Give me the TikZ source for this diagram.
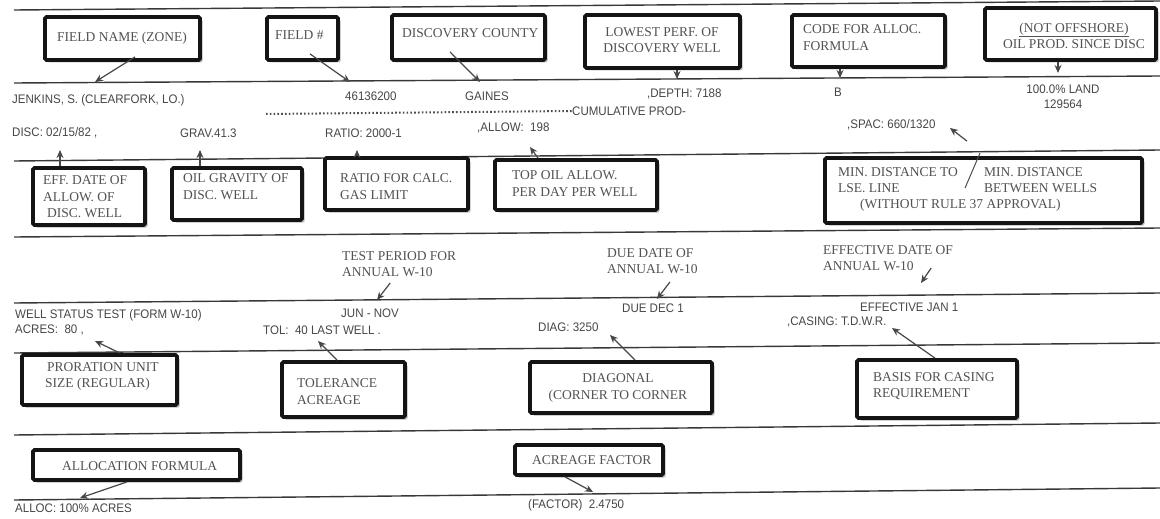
\documentclass[tikz,border=0pt]{standalone}
\usepackage{fontspec}
\setmainfont{Liberation Serif}
\newfontfamily\formfont[FakeStretch=0.93]{Liberation Sans}
\usetikzlibrary{arrows.meta,shadows,fit}
\begin{document}
\begin{tikzpicture}[x=1pt,y=-1pt,
  rule/.style={draw=black!78, line width=1.4pt},
  box/.style={draw=black!92, line width=3.8pt, fill=white, rounded corners=1.5pt, inner sep=0pt,
     drop shadow={shadow xshift=2.5pt, shadow yshift=-2.5pt, opacity=0.28, fill=black}},
  lbl/.style={font=\fontsize{13.5}{16.5}\selectfont, text=black!68, inner sep=0pt, anchor=west, align=left},
  frm/.style={font=\formfont\fontsize{12.4}{15}\selectfont, text=black!72, inner sep=0pt, anchor=west, align=left},
  arr/.style={draw=black!72, line width=1.2pt, -{Stealth[length=8pt,width=7pt]}},
  stars/.style={draw=black!70, line width=2pt, dash pattern=on 1.6pt off 2.2pt},
  slash/.style={draw=black!70, line width=1pt}]
\useasboundingbox (0,0) rectangle (1160,519);
\fill[white] (0,0) rectangle (1160,519);

% form rules
\draw[rule] (14,10) -- (1160,1);
\draw[rule] (14,83) -- (1160,76);
\draw[rule] (14,161) -- (1160,150);
\draw[rule] (14,237) -- (1160,228);
\draw[rule] (14,303) -- (1160,293);
\draw[rule] (14,353) -- (1160,343);
\draw[rule] (14,435) -- (1160,423);
\draw[rule] (14,500) -- (1160,488);

% boxes
\node[box, fit={(45,17) (200,60)}] (b1) {};
\node[box, fit={(267,17) (338,60)}] (b2) {};
\node[box, fit={(392,15) (545,60)}] (b3) {};
\node[box, fit={(585,15) (740,68)}] (b4) {};
\node[box, fit={(792,15) (945,67)}] (b5) {};
\node[box, fit={(985,8) (1156,60)}] (b6) {};
\node[box, fit={(33,168) (145,225)}] (b7) {};
\node[box, fit={(172,168) (302,220)}] (b8) {};
\node[box, fit={(325,158) (468,210)}] (b9) {};
\node[box, fit={(495,160) (657,210)}] (b10) {};
\node[box, fit={(825,158) (1142,223)}] (b11) {};
\node[box, fit={(22,355) (177,405)}] (b12) {};
\node[box, fit={(282,362) (405,417)}] (b13) {};
\node[box, fit={(530,362) (712,413)}] (b14) {};
\node[box, fit={(857,360) (1017,418)}] (b15) {};
\node[box, fit={(33,450) (240,480)}] (b16) {};
\node[box, fit={(515,445) (663,475)}] (b17) {};

% box labels
\node[lbl] (b1t) at (57,38) {FIELD NAME (ZONE)};
\node[lbl] (b2t) at (275,35) {FIELD \#};
\node[lbl] (b3t) at (402,33) {DISCOVERY COUNTY};
\node[lbl, anchor=center, align=center] (b4t) at (662,40) {LOWEST PERF. OF\\DISCOVERY WELL};
\node[lbl] (b5t) at (803,37.5) {CODE FOR ALLOC.\\FORMULA};
\node[lbl, anchor=center, align=center] (b6t) at (1074,36) {\underline{(NOT OFFSHORE)}\\OIL PROD. SINCE DISC};
\node[lbl] (b7t) at (43,197) {EFF. DATE OF\\ALLOW. OF\\\hspace*{4pt}DISC. WELL};
\node[lbl] (b8t) at (183,186.5) {OIL GRAVITY OF\\DISC. WELL};
\node[lbl] (b9t) at (340,186.5) {RATIO FOR CALC.\\GAS LIMIT};
\node[lbl] (b10t) at (512,183.5) {TOP OIL ALLOW.\\PER DAY PER WELL};
\node[lbl] (b11a) at (838,180) {MIN. DISTANCE TO\\LSE. LINE};
\node[lbl] (b11b) at (984,180) {MIN. DISTANCE\\BETWEEN WELLS};
\node[lbl] (b11c) at (860,205) {(WITHOUT RULE 37 APPROVAL)};
\node[lbl] (b12t) at (45,376.5) {\hspace*{2pt}PRORATION UNIT\\SIZE (REGULAR)};
\node[lbl] (b13t) at (297,391.5) {TOLERANCE\\ACREAGE};
\node[lbl, anchor=center, align=center] (b14t) at (618,388) {DIAGONAL\\(CORNER TO CORNER};
\node[lbl] (b15t) at (873,386) {BASIS FOR CASING\\REQUIREMENT};
\node[lbl] (b16t) at (62,466) {ALLOCATION FORMULA};
\node[lbl] (b17t) at (532,460) {ACREAGE FACTOR};

% free serif labels
\node[lbl] (tp) at (342,264) {TEST PERIOD FOR\\ANNUAL W-10};
\node[lbl] (dd) at (607,261) {DUE DATE OF\\ANNUAL W-10};
\node[lbl] (ed) at (823,258) {EFFECTIVE DATE OF\\ANNUAL W-10};

% form texts
\node[frm] (jenkins) at (12,100) {JENKINS, S. (CLEARFORK, LO.)};
\node[frm] (fieldno) at (345,96) {46136200};
\node[frm] (gaines) at (465,96) {GAINES};
\node[frm] (depth) at (647,94) {,DEPTH: 7188};
\node[frm] (code) at (834,92) {B};
\node[frm, anchor=center, align=center] (land) at (1063,97) {100.0\% LAND\\129564};
\node[frm] (cum) at (572,111) {CUMULATIVE PROD-};
\coordinate (dotstart) at (266,114);
\draw[stars] (dotstart) -- (cum.west);
\node[frm] (disc) at (12,133) {DISC: 02/15/82 ,};
\node[frm] (grav) at (180,133) {GRAV.41.3};
\node[frm] (ratio) at (325,133) {RATIO: 2000-1};
\node[frm] (allow) at (477,128) {,ALLOW:\ \ 198};
\node[frm] (spac) at (847,125) {,SPAC: 660/1320};
\node[frm] (wst) at (15,315) {WELL STATUS TEST (FORM W-10)};
\node[frm] (acres) at (15,330) {ACRES:\ \ 80 ,};
\node[frm] (jun) at (341,313) {JUN - NOV};
\node[frm] (tol) at (263,330) {TOL:\ \ 40 LAST WELL .};
\node[frm] (duedec) at (622,308) {DUE DEC 1};
\node[frm] (diag) at (538,327) {DIAG: 3250};
\node[frm] (effjan) at (860,307) {EFFECTIVE JAN 1};
\node[frm] (casing) at (787,322) {,CASING: T.D.W.R.};
\node[frm] (alloc) at (15,508) {ALLOC: 100\% ACRES};
\node[frm] (factor) at (528,505) {(FACTOR)\ \ 2.4750};

% arrow tips
\coordinate (t1) at (95,82);
\coordinate (t2) at (350,82);
\coordinate (t3) at (480,82);
\coordinate (t4) at (677,79);
\coordinate (t5) at (840,78);
\coordinate (t6) at (1058,73);
\coordinate (t7) at (60,150);
\coordinate (t8) at (200,150);
\coordinate (t9) at (357,150);
\coordinate (t10) at (530,147);
\coordinate (t11) at (950,128);
\coordinate (t12) at (377,300);
\coordinate (t13) at (657,299);
\coordinate (t14) at (921,283);
\coordinate (t15) at (95,341);
\coordinate (t16) at (318,341);
\coordinate (t17) at (610,335);
\coordinate (t18) at (892,328);
\coordinate (t19) at (80,498);
\coordinate (t20) at (593,492);

% connectors
\draw[arr] ([xshift=12.5pt,yshift=5pt]b1.south) -- (t1);
\draw[arr] ([xshift=7.5pt,yshift=8pt]b2.south) -- (t2);
\draw[arr] ([xshift=-18.5pt,yshift=10pt]b3.south) -- (t3);
\draw[arr] ([xshift=14.5pt]b4.south) -- (t4);
\draw[arr] ([xshift=-28.5pt]b5.south) -- (t5);
\draw[arr] ([xshift=-12.5pt]b6.south) -- (t6);
\draw[arr] ([xshift=-29pt]b7.north) -- (t7);
\draw[arr] ([xshift=-37pt]b8.north) -- (t8);
\draw[arr] ([xshift=-39.5pt]b9.north) -- (t9);
\draw[arr] ([xshift=-38pt]b10.north) -- (t10);
\draw[arr] ([xshift=-16.5pt,yshift=15pt]b11.north) -- (t11);
\draw[slash] ([xshift=-3.5pt,yshift=3pt]b11.north) -- ([xshift=-18.5pt,yshift=-32pt]b11.north);
\draw[arr] ([xshift=-9pt,yshift=-6pt]tp.south) -- (t12);
\draw[arr] ([xshift=17.5pt,yshift=-8pt]dd.south) -- (t13);
\draw[arr] ([xshift=-22pt,yshift=-10pt]ed.east) -- (t14);
\draw[arr] ([xshift=20.5pt]b12.north) -- (t15);
\draw[arr] ([xshift=-6.5pt]b13.north) -- (t16);
\draw[arr] ([xshift=14pt]b14.north) -- (t17);
\draw[arr] ([xshift=-2pt]b15.north) -- (t18);
\draw[arr] ([xshift=-9.5pt]b16.south) -- (t19);
\draw[arr] ([xshift=-24pt]b17.south) -- (t20);
\end{tikzpicture}
\end{document}
